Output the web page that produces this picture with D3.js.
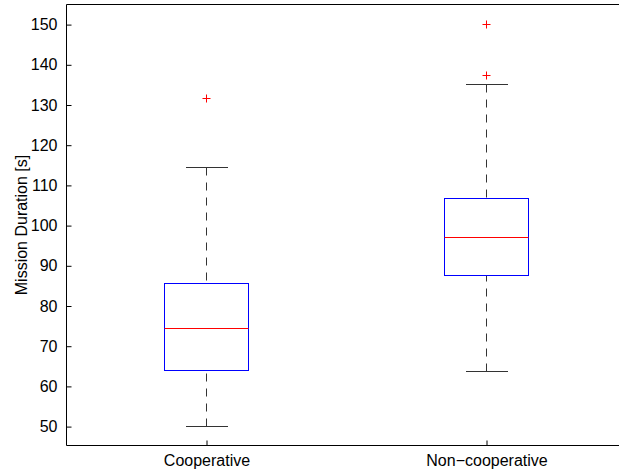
<!DOCTYPE html>
<html>
<head>
<meta charset="utf-8">
<script src="https://cdn.jsdelivr.net/npm/d3@7"></script>
<style>
html,body{margin:0;padding:0;background:#fff;}
svg{display:block;}
text{font-family:"Liberation Sans",Arial,Helvetica,sans-serif;}
</style>
</head>
<body>
<svg id="chart" width="619" height="473"></svg>
<script>
// Data
const categories = ["Cooperative", "Non\u2212cooperative"];
const lowerWhisker = [50.0, 63.8];
const q1 = [64.0, 87.7];
const median = [74.3, 97.1];
const q3 = [85.6, 106.8];
const upperWhisker = [114.4, 135.0];
const outliers = [[131.6], [137.4, 150.1]];
const yTicks = [50, 60, 70, 80, 90, 100, 110, 120, 130, 140, 150];
const yLabel = "Mission Duration [s]";

const svg = d3.select("#chart");
const mLeft = 66.5, mRight = 626.5, mTop = 4.5, mBottom = 445.5;

const x = d3.scalePoint().domain(categories).range([mLeft, mRight]).padding(0.5);
const y = d3.scaleLinear().domain([45.3, 155]).range([mBottom, mTop]);
const step = x.step();
const boxW = step * 0.3;
const capW = step * 0.15;

const crisp = v => Math.round(v - 0.5) + 0.5;

// Axes
const yAxis = d3.axisLeft(y).tickValues(yTicks).tickSizeInner(-5).tickSizeOuter(0).tickPadding(9);
const gy = svg.append("g").attr("transform", `translate(${mLeft},0)`).call(yAxis);
gy.select(".domain").remove();
gy.selectAll(".tick line").attr("stroke", "#000");
gy.selectAll(".tick text").attr("font-size", 16).attr("fill", "#000")
  .attr("font-family", '"Liberation Sans",Arial,sans-serif');

const xAxis = d3.axisBottom(x).tickSizeInner(-5).tickSizeOuter(0).tickPadding(9);
const gx = svg.append("g").attr("transform", `translate(0,${mBottom})`).call(xAxis);
gx.select(".domain").remove();
gx.selectAll(".tick line").attr("stroke", "#000");
gx.selectAll(".tick text").attr("font-size", 16).attr("fill", "#000")
  .attr("font-family", '"Liberation Sans",Arial,sans-serif');

// Frame lines (right edge lies outside the window)
svg.append("line").attr("x1", mLeft).attr("x2", mLeft).attr("y1", mTop).attr("y2", mBottom).attr("stroke", "#000");
svg.append("line").attr("x1", mLeft).attr("x2", mRight).attr("y1", mBottom).attr("y2", mBottom).attr("stroke", "#000");
svg.append("line").attr("x1", mLeft).attr("x2", mRight).attr("y1", mTop).attr("y2", mTop).attr("stroke", "#000");

// Y label
svg.append("text")
  .attr("transform", `translate(27,${(mTop + mBottom) / 2}) rotate(-90)`)
  .attr("text-anchor", "middle")
  .attr("font-size", 16)
  .attr("fill", "#000")
  .text(yLabel);

// Boxes
const g = svg.append("g");
categories.forEach((c, i) => {
  const cx = crisp(x(c));
  const wc = "#333";
  g.append("line").attr("x1", cx).attr("x2", cx)
    .attr("y1", crisp(y(upperWhisker[i]))).attr("y2", crisp(y(q3[i])))
    .attr("stroke", wc).attr("stroke-dasharray", "8,7");
  g.append("line").attr("x1", cx).attr("x2", cx)
    .attr("y1", crisp(y(lowerWhisker[i]))).attr("y2", crisp(y(q1[i])))
    .attr("stroke", wc).attr("stroke-dasharray", "8,7");
  [upperWhisker[i], lowerWhisker[i]].forEach(v => {
    g.append("line").attr("x1", Math.round(x(c) - capW / 2)).attr("x2", Math.round(x(c) + capW / 2))
      .attr("y1", crisp(y(v))).attr("y2", crisp(y(v))).attr("stroke", wc);
  });
  const bx0 = crisp(x(c) - boxW / 2), bx1 = crisp(x(c) + boxW / 2);
  const by0 = crisp(y(q3[i])), by1 = crisp(y(q1[i]));
  g.append("rect").attr("x", bx0).attr("y", by0).attr("width", bx1 - bx0).attr("height", by1 - by0)
    .attr("fill", "none").attr("stroke", "#0000ff");
  g.append("line").attr("x1", bx0).attr("x2", bx1)
    .attr("y1", crisp(y(median[i]))).attr("y2", crisp(y(median[i])))
    .attr("stroke", "#ff0000");
  outliers[i].forEach(v => {
    const oy = crisp(y(v));
    g.append("path").attr("d", `M${cx - 4},${oy}H${cx + 4}M${cx},${oy - 4}V${oy + 4}`)
      .attr("stroke", "#ff0000").attr("fill", "none");
  });
});
</script>
</body>
</html>
